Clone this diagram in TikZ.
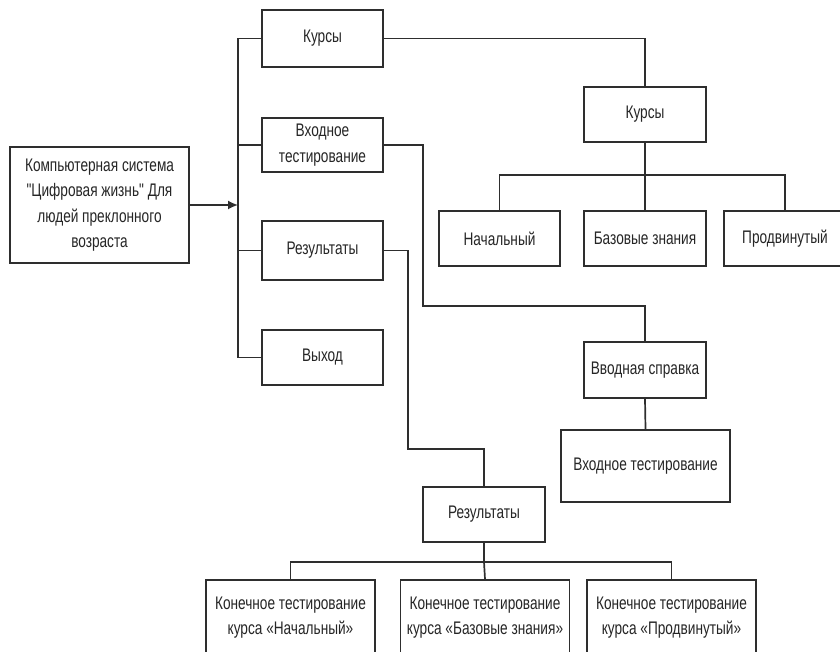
\documentclass[tikz,border=0pt]{standalone}
\usepackage{fontspec}
\newfontfamily\boxfont{Liberation Sans}[FakeStretch=0.75]
\usepackage{xcolor}
\usepackage{tikz}
\usetikzlibrary{arrows.meta,positioning,calc}
\definecolor{linegray}{HTML}{2E2E2E}
\definecolor{textgray}{HTML}{262626}

\begin{document}
\begin{tikzpicture}[x=1pt,y=-1pt,>={Latex[length=10pt,width=9pt]},
  box/.style={draw=linegray,line width=1.7pt,fill=white,align=center,inner sep=0pt,
    text=textgray,font=\boxfont\fontsize{18.2}{25.5}\selectfont,minimum width=121pt,minimum height=55pt},
  link/.style={draw=linegray,line width=1.7pt}]
  \useasboundingbox (0,0) rectangle (840,652);
  \clip (0,0) rectangle (840,652);

  % main system box and the menu column
  \node[box,minimum width=179pt,minimum height=116pt] (sys) at (99.5,205)
    {Компьютерная система\\"Цифровая жизнь" Для\\людей преклонного\\возраста};
  \node[box,minimum height=57pt] (kurs) at (322.5,38.5) {Курсы};
  \node[box,minimum height=54pt] (vhod) at (322.5,145) {Входное\\тестирование};
  \node[box,minimum height=59pt] (res) at (322.5,250.5) {Результаты};
  \node[box] (exit) at (322.5,357.5) {Выход};

  % courses branch
  \node[box,minimum width=122pt] (kurs2) at (645,114.5) {Курсы};
  \node[box] (nach) at (499.5,238.5) {Начальный};
  \node[box,minimum width=122pt] (baz) at (645,238.5) {Базовые знания};
  \node[box,minimum width=122pt] (prod) at (785,238.5) {Продвинутый};

  % entry test branch
  \node[box,minimum width=122pt,minimum height=56pt] (spr) at (645,370) {Вводная справка};
  \node[box,minimum width=169pt,minimum height=72pt] (vhod2) at (645.5,466) {Входное тестирование};

  % results branch
  \node[box,minimum width=122pt] (res2) at (484,514.5) {Результаты};
  \node[box,minimum width=169pt,minimum height=75pt] (kon1) at (290.5,617.5)
    {Конечное тестирование\\курса «Начальный»};
  \node[box,minimum width=169pt,minimum height=75pt] (kon2) at (485,617.5)
    {Конечное тестирование\\курса «Базовые знания»};
  \node[box,minimum width=169pt,minimum height=75pt] (kon3) at (671.5,617.5)
    {Конечное тестирование\\курса «Продвинутый»};

  % connectors
  \coordinate (bus) at (238,205);
  \draw[link,->] (sys.east) -- (bus);
  \draw[link] (kurs.west) -- (kurs.west -| bus) -- (exit.west -| bus) -- (exit.west);
  \draw[link] (vhod.west) -- (vhod.west -| bus);
  \draw[link] (res.west) -- (res.west -| bus);

  \draw[link] (kurs.east) -| (kurs2.north);
  \coordinate (kbus) at ($(kurs2.south)+(0,32)$);
  \draw[link] (kurs2.south) -- (kbus) -- (baz.north);
  \draw[link] (nach.north) |- (kbus) -| (prod.north);

  \draw[link] (vhod.east) -- ++(39,0) |- ($(spr.north)+(0,-35)$) -- (spr.north);
  \draw[link] (spr.south) -- (vhod2.north);

  \draw[link] (res.east) -- ++(24,0) |- ($(res2.north)+(0,-37)$) -- (res2.north);
  \coordinate (rbus) at ($(res2.south)+(0,19)$);
  \draw[link] (res2.south) -- (rbus) -- (kon2.north);
  \draw[link] (kon1.north) |- (rbus) -| (kon3.north);
\end{tikzpicture}
\end{document}
